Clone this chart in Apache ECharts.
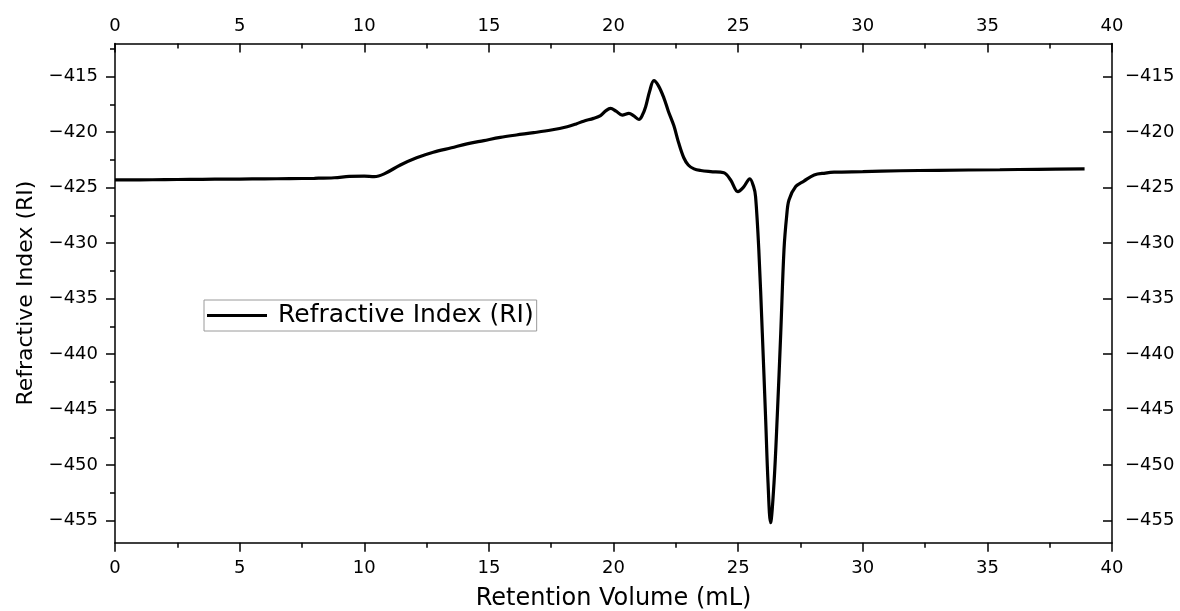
<!DOCTYPE html>
<html>
<head>
<meta charset="utf-8">
<script src="https://cdn.jsdelivr.net/npm/echarts@6/dist/echarts.min.js"></script>
<style>
  html, body { margin: 0; padding: 0; background: #fff; }
  #chart { width: 1180px; height: 611px; }
</style>
</head>
<body>
<div id="chart"></div>
<script>
// Retention volume (mL) of each sample point
const retentionVolume = [
  0, 1, 2, 3, 4, 5, 6, 7, 8, 8.8, 9.4, 10.0, 10.4, 10.8, 11.45, 12.1, 12.77,
  13.5, 14.12, 14.8, 15.46, 16.1, 16.8, 17.5, 18.14, 18.5, 18.8, 19.2, 19.48,
  19.7, 19.88, 20.1, 20.35, 20.62, 20.8, 21.02, 21.15, 21.29, 21.45, 21.62,
  21.8, 22.02, 22.2, 22.42, 22.62, 22.82, 23.0, 23.23, 23.5, 23.9, 24.43,
  24.7, 24.99, 25.2, 25.47, 25.62, 25.7, 25.83, 25.97, 26.1, 26.2, 26.3,
  26.44, 26.57, 26.71, 26.84, 26.95, 27.04, 27.31, 27.64, 28.05, 28.5, 28.85,
  30, 31.5, 33, 35.5, 37, 38.9
];

// Refractive index detector signal (RI)
const refractiveIndex = [
  -424.30, -424.29, -424.27, -424.25, -424.23, -424.22, -424.20, -424.18,
  -424.15, -424.10, -423.98, -423.95, -424.00, -423.75, -422.95, -422.30,
  -421.80, -421.40, -421.05, -420.75, -420.46, -420.25, -420.04, -419.80,
  -419.50, -419.25, -419.00, -418.75, -418.50, -418.05, -417.85, -418.10,
  -418.45, -418.30, -418.50, -418.85, -418.50, -417.70, -416.30, -415.35,
  -415.80, -416.90, -418.10, -419.40, -421.00, -422.30, -422.95, -423.30,
  -423.45, -423.55, -423.65, -424.30, -425.36, -425.00, -424.20, -424.90,
  -425.80, -430.60, -438.10, -445.60, -451.60, -455.20, -451.60, -445.60,
  -438.10, -430.60, -427.50, -426.10, -424.90, -424.40, -423.85, -423.68,
  -423.60, -423.55, -423.47, -423.43, -423.38, -423.34, -423.30
];

// Axis tick positions
const yMajorTicks = [-455, -450, -445, -440, -435, -430, -425, -420, -415];
const yMinorTicks = [-452.5, -447.5, -442.5, -437.5, -432.5, -427.5, -422.5, -417.5, -412.5];

const FONT = 'DejaVu Sans';
const INK = '#000';
const Y_MIN = -457, Y_MAX = -412;

const minus = v => (v < 0 ? '\u2212' + Math.abs(v) : String(v));

function xAxis(position, inside, margin, name) {
  return {
    type: 'value', position, min: 0, max: 40, interval: 5,
    name: name || '', nameLocation: 'middle', nameGap: 44,
    nameTextStyle: { fontFamily: FONT, fontSize: 24, color: INK },
    axisLine: { show: true, onZero: false, lineStyle: { color: INK, width: 1.5 } },
    axisTick: { show: true, inside, length: 9, lineStyle: { color: INK, width: 1.5 } },
    minorTick: { show: true, splitNumber: 2, length: 5, lineStyle: { color: INK, width: 1.5 } },
    axisLabel: { show: true, margin, fontFamily: FONT, fontSize: 18, color: INK },
    splitLine: { show: false }, minorSplitLine: { show: false }
  };
}

function yMajor(position, inside, margin, name) {
  return {
    type: 'value', position, min: Y_MIN, max: Y_MAX,
    name: name || '', nameLocation: 'middle', nameGap: 78,
    nameTextStyle: { fontFamily: FONT, fontSize: 22, color: INK },
    axisLine: { show: true, onZero: false, lineStyle: { color: INK, width: 1.5 } },
    axisTick: { show: true, inside, length: 9, customValues: yMajorTicks,
                lineStyle: { color: INK, width: 1.5 } },
    axisLabel: { show: true, margin, customValues: yMajorTicks, formatter: minus,
                 fontFamily: FONT, fontSize: 18, color: INK },
    splitLine: { show: false }
  };
}

function yMinor(position, inside) {
  return {
    type: 'value', position, min: Y_MIN, max: Y_MAX,
    axisLine: { show: false },
    axisTick: { show: true, inside, length: 5, customValues: yMinorTicks,
                lineStyle: { color: INK, width: 1.5 } },
    axisLabel: { show: false },
    splitLine: { show: false }
  };
}

const chart = echarts.init(document.getElementById('chart'), null, { renderer: 'canvas' });

chart.setOption({
  backgroundColor: '#fff',
  animation: false,
  grid: {
    left: 115, right: 68, top: 43.5, bottom: 68.3,
    containLabel: false, outerBoundsMode: 'none'
  },
  legend: {
    left: 204, top: 300,
    data: ['Refractive Index (RI)'],
    icon: 'rect', itemWidth: 60, itemHeight: 3,
    padding: [3, 3, 3, 3],
    borderColor: '#9a9a9a', borderWidth: 1,
    textStyle: { fontFamily: FONT, fontSize: 25, color: INK, padding: [0, 0, 0, 6] }
  },
  xAxis: [
    xAxis('bottom', false, 17, 'Retention Volume (mL)'),
    xAxis('top', true, 8)
  ],
  yAxis: [
    yMajor('left', false, 17, 'Refractive Index (RI)'),
    yMinor('left', false),
    yMajor('right', true, 13),
    yMinor('right', true)
  ],
  series: [{
    name: 'Refractive Index (RI)',
    type: 'line',
    xAxisIndex: 0, yAxisIndex: 0,
    data: retentionVolume.map((x, i) => [x, refractiveIndex[i]]),
    smooth: 0.35,
    showSymbol: false,
    lineStyle: { color: INK, width: 3.2 },
    itemStyle: { color: INK }
  }]
});
</script>
</body>
</html>
